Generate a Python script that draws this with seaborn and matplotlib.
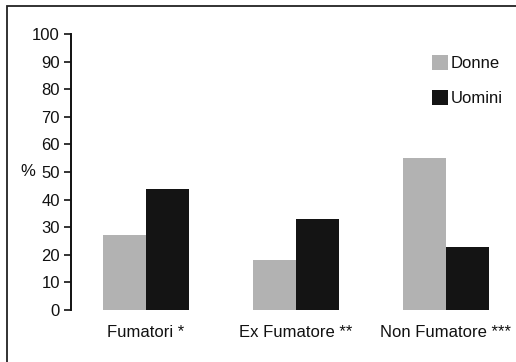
import matplotlib
matplotlib.use("Agg")
import matplotlib.pyplot as plt
import seaborn as sns
import pandas as pd
from matplotlib.patches import Rectangle

categorie = ["Fumatori *", "Ex Fumatore **", "Non Fumatore ***"]
donne = [27, 18, 55]
uomini = [44, 33, 23]
serie = ["Donne", "Uomini"]
colori = ["#b2b2b2", "#141414"]
yticks = [0, 10, 20, 30, 40, 50, 60, 70, 80, 90, 100]

df = pd.DataFrame({
    "categoria": categorie * 2,
    "sesso": [serie[0]] * 3 + [serie[1]] * 3,
    "valore": donne + uomini,
})

sns.set_theme(style="white")
plt.rcParams["font.family"] = ["Liberation Sans", "DejaVu Sans"]

W, H = 516, 362
FS = 12
fig = plt.figure(figsize=(W / 100, H / 100), dpi=100)
ax = fig.add_axes([71 / W, (H - 310) / H, (516 - 71) / W, (310 - 34) / H])

sns.barplot(data=df, x="categoria", y="valore", hue="sesso",
            palette=colori, width=0.567, gap=0, saturation=1,
            edgecolor="none", linewidth=0, ax=ax)

ax.set_xlim(-0.5, -0.5 + 445 / 150)
ax.set_ylim(0, 100)
ax.set_yticks(yticks)
ax.set_yticklabels([str(v) for v in yticks], fontsize=FS, color="#111111")
ax.tick_params(axis="y", direction="out", length=5, width=1.2, color="#111111",
               left=True, pad=3)
ax.tick_params(axis="x", length=0, pad=11, labelsize=FS, labelcolor="#111111")
ax.set_xlabel("")
ax.set_ylabel("%", rotation=0, fontsize=FS, color="#111111",
              ha="right", va="center")
ax.yaxis.set_label_coords((35 - 71) / 445, 0.5)

for s in ["top", "right", "bottom"]:
    ax.spines[s].set_visible(False)
ax.spines["left"].set_color("#111111")
ax.spines["left"].set_linewidth(1.4)

leg = ax.legend(loc="upper left", bbox_to_anchor=((424 - 71) / 445, (310 - 47) / 276),
                frameon=False, fontsize=FS, handlelength=0.95, handleheight=1.0,
                handletextpad=0.15, labelspacing=1.1, borderpad=0)
for t in leg.get_texts():
    t.set_color("#111111")

fig.patches.append(Rectangle((7 / W, -0.1), 1.2, (H - 6) / H + 0.1,
                             transform=fig.transFigure, fill=False,
                             edgecolor="#222222", linewidth=1.3))

fig.savefig("out.png", dpi=100)
